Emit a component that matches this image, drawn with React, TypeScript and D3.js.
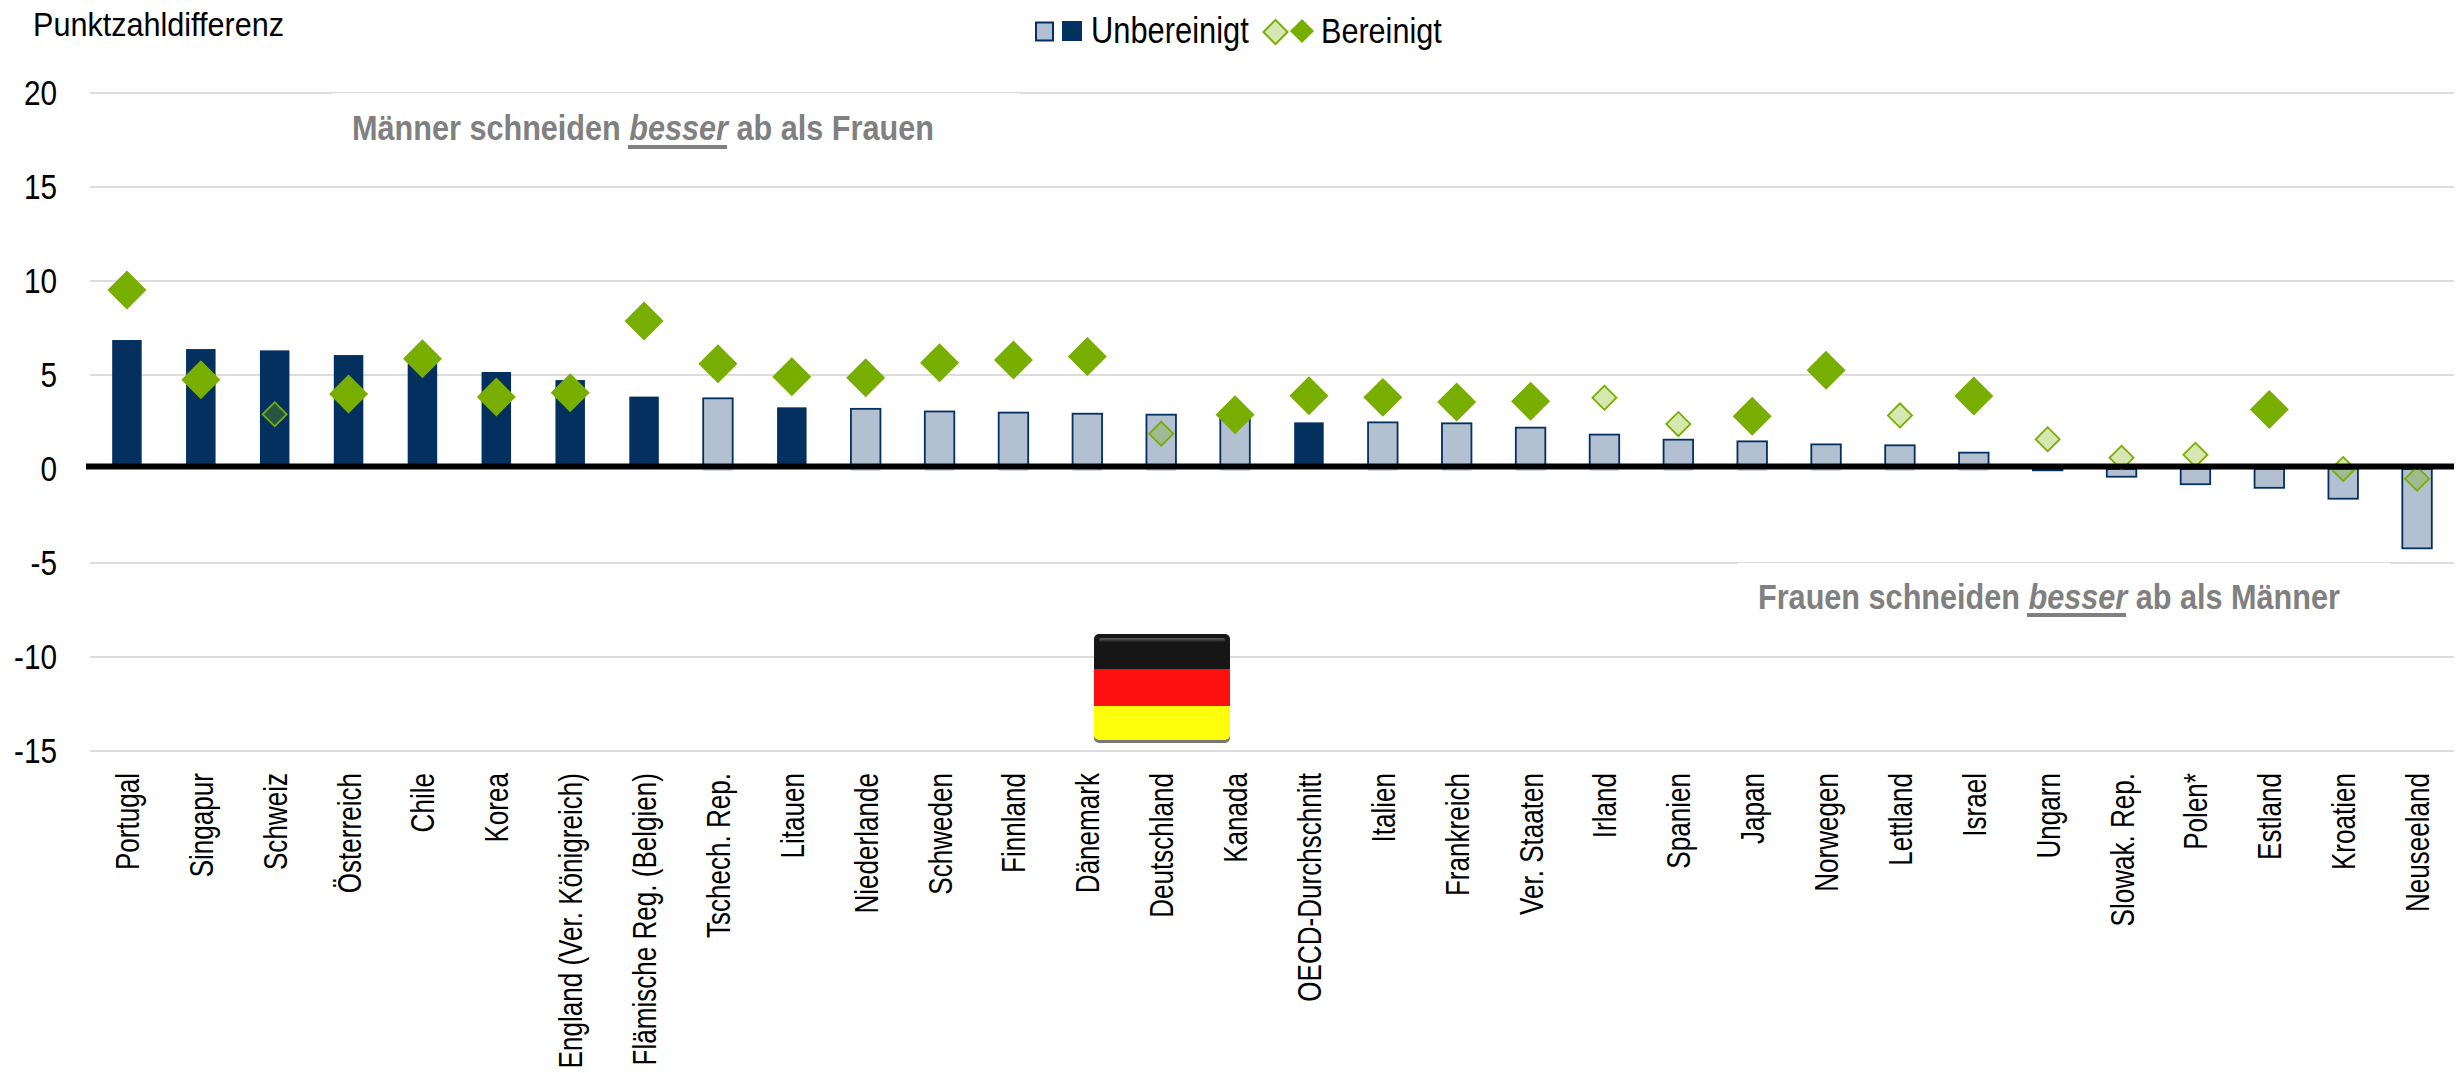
import React from 'react';
import * as d3 from 'd3';

// values
const countries = ['Portugal', 'Singapur', 'Schweiz', 'Österreich', 'Chile', 'Korea', 'England (Ver. Königreich)', 'Flämische Reg. (Belgien)', 'Tschech. Rep.', 'Litauen', 'Niederlande', 'Schweden', 'Finnland', 'Dänemark', 'Deutschland', 'Kanada', 'OECD-Durchschnitt', 'Italien', 'Frankreich', 'Ver. Staaten', 'Irland', 'Spanien', 'Japan', 'Norwegen', 'Lettland', 'Israel', 'Ungarn', 'Slowak. Rep.', 'Polen*', 'Estland', 'Kroatien', 'Neuseeland'];
const unadjusted = [6.86, 6.38, 6.31, 6.06, 5.6, 5.16, 4.73, 3.85, 3.76, 3.28, 3.2, 3.06, 3.0, 2.94, 2.89, 2.8, 2.48, 2.48, 2.43, 2.2, 1.83, 1.56, 1.47, 1.31, 1.26, 0.87, -0.07, -0.41, -0.81, -1.0, -1.58, -4.22];
const unadjustedSig = [1, 1, 1, 1, 1, 1, 1, 1, 0, 1, 0, 0, 0, 0, 0, 0, 1, 0, 0, 0, 0, 0, 0, 0, 0, 0, 0, 0, 0, 0, 0, 0];
const adjusted = [9.52, 4.75, 2.91, 3.99, 5.87, 3.83, 4.06, 7.87, 5.6, 4.91, 4.86, 5.65, 5.8, 5.99, 1.88, 2.89, 3.9, 3.81, 3.56, 3.6, 3.79, 2.39, 2.8, 5.25, 2.85, 3.88, 1.58, 0.6, 0.76, 3.17, 0, -0.52];
const adjustedSig = [1, 1, 0, 1, 1, 1, 1, 1, 1, 1, 1, 1, 1, 1, 0, 1, 1, 1, 1, 1, 0, 0, 1, 1, 0, 1, 0, 0, 0, 1, 0, 0];
const yTicks = [20, 15, 10, 5, 0, -5, -10, -15];

const NAVY = '#03305f';
const LIGHT = '#b2c0d2';
const GREEN = '#78ae00';
const GRID = '#dcdcdc';
const FONT = '"Liberation Sans", Arial, sans-serif';

const x = d3.scaleBand<string>().domain(countries).range([90, 2454]);
const y = d3.scaleLinear().domain([-15, 20]).range([751, 93]);
const big = d3.symbol().type(d3.symbolSquare).size(760)()!;
const small = d3.symbol().type(d3.symbolSquare).size(290)()!;

// the reference text is a squeezed Arial, no narrow font here so squeeze it
function at(px: number, py: number, sx: number, rot = 0) {
  return `translate(${px},${py}) rotate(${rot}) scale(${sx},1)`;
}

function Flag() {
  const left = 1094, top = 634, w = 136, h = 106;
  return (
    <g>
      <defs>
        <clipPath id="flagClip">
          <rect x={left} y={top} width={w} height={h} rx={5} />
        </clipPath>
        <linearGradient id="flagGloss" x1="0" y1="0" x2="0" y2="1">
          <stop offset="0" stopColor="#fff" stopOpacity={0.32} />
          <stop offset="1" stopColor="#fff" stopOpacity={0.03} />
        </linearGradient>
      </defs>
      <rect x={left} y={top + 3} width={w} height={h} rx={5} fill="#777" />
      <g clipPath="url(#flagClip)">
        <rect x={left} y={top} width={w} height={35} fill="#161616" />
        <rect x={left} y={top + 35} width={w} height={37} fill="#fc1010" />
        <rect x={left} y={top + 72} width={w} height={34} fill="#ffff0c" />
        <rect x={left + 5} y={top + 4} width={w - 10} height={4} rx={2} fill="url(#flagGloss)" />
      </g>
    </g>
  );
}

export default function App() {
  const center = (c: string) => x(c)! + x.bandwidth() / 2;
  const barW = 29.5;
  const y0 = y(0);
  return (
    <svg width={2463} height={1073} style={{ position: 'absolute', left: 0, top: 0, background: '#fff' }} fontFamily={FONT}>
      {/* grid */}
      {yTicks.filter((t) => t !== 0).map((t) => (
        <line key={t} x1={90} x2={2454} y1={y(t)} y2={y(t)} stroke={GRID} strokeWidth={2} />
      ))}
      {/* the annotation boxes cut half of the grid line */}
      <rect x={1738} y={y(-5)} width={652} height={60} fill="#fff" />
      <rect x={332} y={y(20)} width={688} height={60} fill="#fff" />

      {yTicks.map((t) => (
        <text key={t} transform={at(57, y(t) + 12, 0.85)} fontSize={35} textAnchor="end" fill="#000">{t}</text>
      ))}

      {/* bars */}
      {countries.map((c, i) => {
        const v = unadjusted[i];
        const sig = unadjustedSig[i] === 1;
        const top = v > 0 ? y(v) : y0;
        const bottom = v > 0 ? y0 - 1.5 : y(v);
        return (
          <g key={c}>
            {!sig && v > 0 && <rect x={center(c) - barW / 2} y={y0} width={barW} height={2} fill={LIGHT} opacity={0.6} />}
            <rect
              x={center(c) - barW / 2}
              y={top}
              width={barW}
              height={bottom - top}
              fill={sig ? NAVY : LIGHT}
              stroke={NAVY}
              strokeWidth={sig ? 0 : 1.8}
            />
          </g>
        );
      })}

      {/* diamonds */}
      {countries.map((c, i) => {
        const sig = adjustedSig[i] === 1;
        return (
          <path
            key={c}
            d={sig ? big : small}
            transform={`translate(${center(c)},${y(adjusted[i])}) rotate(45)`}
            fill={GREEN}
            fillOpacity={sig ? 1 : 0.3}
            stroke={sig ? 'none' : GREEN}
            strokeWidth={1.8}
          />
        );
      })}

      {/* zero line */}
      <line x1={86} x2={2454} y1={y0 - 2.5} y2={y0 - 2.5} stroke="#000" strokeWidth={6} />

      {/* category labels */}
      {countries.map((c) => (
        <text key={c} transform={at(center(c) + 12, 773, 0.79, -90)} fontSize={33} textAnchor="end" fill="#000">{c}</text>
      ))}

      <text transform={at(33, 36, 0.9)} fontSize={34} fill="#000">Punktzahldifferenz</text>

      {/* annotations */}
      <text transform={at(352, 140, 0.875)} fontSize={35} fontWeight="bold" fill="#808080">
        Männer schneiden <tspan fontStyle="italic">besser</tspan> ab als Frauen
      </text>
      <line x1={628} x2={727} y1={147} y2={147} stroke="#808080" strokeWidth={4} />
      <text transform={at(1758, 609, 0.875)} fontSize={35} fontWeight="bold" fill="#808080">
        Frauen schneiden <tspan fontStyle="italic">besser</tspan> ab als Männer
      </text>
      <line x1={2027} x2={2126} y1={615} y2={615} stroke="#808080" strokeWidth={4} />

      <Flag />

      {/* legend */}
      <rect x={1036} y={22.5} width={17} height={18} fill={LIGHT} stroke={NAVY} strokeWidth={2} />
      <rect x={1062} y={21} width={20} height={20} fill={NAVY} />
      <text transform={at(1091, 43, 0.857)} fontSize={36} fill="#000">Unbereinigt</text>
      <path d={small} transform="translate(1275.5,32) rotate(45)" fill={GREEN} fillOpacity={0.3} stroke={GREEN} strokeWidth={2} />
      <path d={small} transform="translate(1302,31) rotate(45)" fill={GREEN} />
      <text transform={at(1321, 43, 0.85)} fontSize={36} fill="#000">Bereinigt</text>
    </svg>
  );
}
